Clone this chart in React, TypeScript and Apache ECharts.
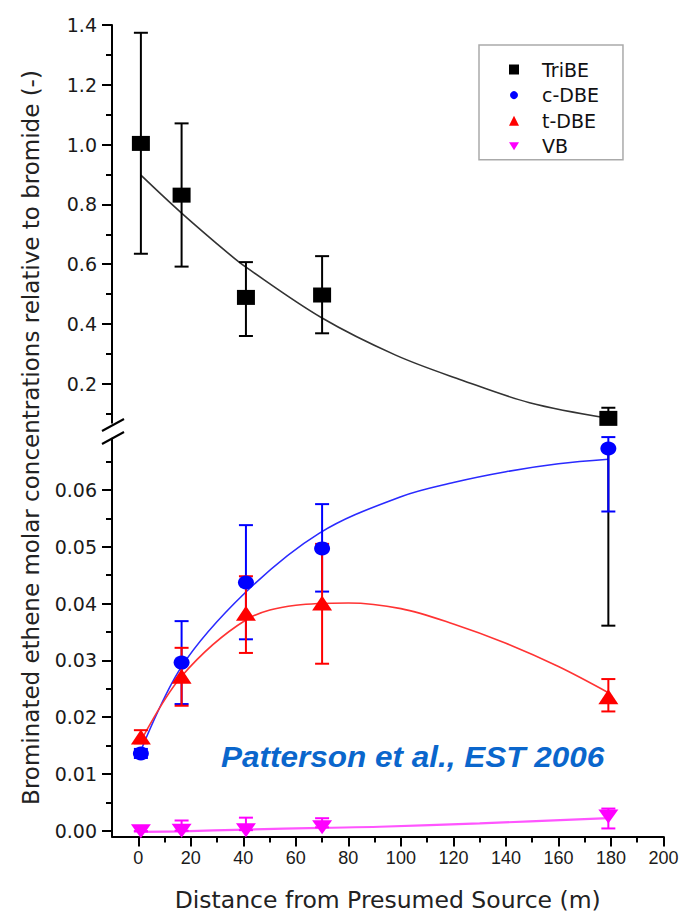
import React, { useEffect, useRef } from 'react';
import * as echarts from 'echarts';

// ---- data ----
const distances = [1, 16.5, 41, 70, 179];

const tribe = [1.004, 0.831, 0.489, 0.497, 0.0845];
const tribeLow = [0.635, 0.592, 0.36, 0.369, 0.0845];
const tribeHigh = [1.374, 1.071, 0.607, 0.627, 0.12];
// lower part of the TriBE error bar at 179 m, as it falls on the lower axis
const tribeTailX = [179];
const tribeTailTop = [0.0673];
const tribeTailBottom = [0.0361];

const cdbe = [0.0136, 0.0296, 0.0437, 0.0497, 0.0673];
const cdbeLow = [0.0128, 0.0223, 0.0337, 0.0421, 0.0562];
const cdbeHigh = [0.0144, 0.0369, 0.0538, 0.0575, 0.0693];

const tdbe = [0.0165, 0.0272, 0.0383, 0.0401, 0.0236];
const tdbeLow = [0.0154, 0.022, 0.0313, 0.0294, 0.021];
const tdbeHigh = [0.0177, 0.0322, 0.0448, 0.0505, 0.0267];

const vb = [-0.0001, 0.0, 0.0001, 0.0006, 0.0025];
const vbLow = [-0.0001, 0.0, 0.0001, 0.0006, 0.0004];
const vbHigh = [-0.0001, 0.0018, 0.0023, 0.0022, 0.0039];

// fitted curves
const tribeFitX = [1, 16.5, 35, 41, 70, 98, 123, 149, 179];
const tribeFitY = [0.898, 0.771, 0.631, 0.59, 0.42, 0.296, 0.213, 0.137, 0.085];
const cdbeFitX = [1, 16.5, 40.5, 69, 100, 120, 140, 160, 179];
const cdbeFitY = [0.0141, 0.0289, 0.0418, 0.0524, 0.0588, 0.0613, 0.0632, 0.0646, 0.0654];
const tdbeFitX = [1, 16.5, 41, 60, 80, 100, 120, 140, 160, 179];
const tdbeFitY = [0.0158, 0.0272, 0.0371, 0.0397, 0.0401, 0.0391, 0.0364, 0.033, 0.0289, 0.0243];
const vbFitX = [1, 16.5, 41, 70, 92, 130, 179];
const vbFitY = [-0.0002, -0.0001, 0.0002, 0.0005, 0.0007, 0.0013, 0.0022];

// ticks
const xMajorTicks = [0, 20, 40, 60, 80, 100, 120, 140, 160, 180, 200];
const xMinorTicks = [10, 30, 50, 70, 90, 110, 130, 150, 170, 190];
const yTopMajorTicks = [0.2, 0.4, 0.6, 0.8, 1.0, 1.2, 1.4];
const yTopMinorTicks = [0.1, 0.3, 0.5, 0.7, 0.9, 1.1, 1.3];
const yBottomMajorTicks = [0, 0.01, 0.02, 0.03, 0.04, 0.05, 0.06];
const yBottomMinorTicks = [0.005, 0.015, 0.025, 0.035, 0.045, 0.055, 0.065];

const seriesNames = ['TriBE', 'c-DBE', 't-DBE', 'VB'];
const yTitle = 'Brominated ethene molar concentrations relative to bromide (-)';
const xTitle = 'Distance from Presumed Source (m)';
const citation = 'Patterson et al., EST 2006';

const zip = (xs: number[], ys: number[]) => xs.map((x, i) => [x, ys[i]]);
const errData = (xs: number[], lo: number[], hi: number[], capLo = 1, capHi = 1) =>
  xs.map((x, i) => [x, lo[i], hi[i], capLo, capHi]);

const errorBars = (color: string, capHalf = 7) => (params: any, api: any) => {
  const x = api.value(0);
  const lo = api.value(1);
  const hi = api.value(2);
  const capLo = api.value(3);
  const capHi = api.value(4);
  const pLo = api.coord([x, lo]);
  const pHi = api.coord([x, hi]);
  const style = { stroke: color, lineWidth: 2 };
  const children: any[] = [
    { type: 'line', shape: { x1: pLo[0], y1: pLo[1], x2: pHi[0], y2: pHi[1] }, style },
  ];
  if (capLo) children.push({ type: 'line', shape: { x1: pLo[0] - capHalf, y1: pLo[1], x2: pLo[0] + capHalf, y2: pLo[1] }, style });
  if (capHi) children.push({ type: 'line', shape: { x1: pHi[0] - capHalf, y1: pHi[1], x2: pHi[0] + capHalf, y2: pHi[1] }, style });
  return { type: 'group', children };
};

const GRID_LEFT = 112;
const GRID_WIDTH = 551.5;

export default function App() {
  const ref = useRef<HTMLDivElement>(null);

  useEffect(() => {
    if (!ref.current) return;
    const chart = echarts.init(ref.current, null, { renderer: 'svg' });

    const labelFontY = { fontFamily: 'DejaVu Sans', fontSize: 19, color: '#1a1a1a' };
    const labelFontX = { fontFamily: 'Liberation Sans', fontSize: 18, color: '#1a1a1a' };
    const axisLine = { show: true, onZero: false, lineStyle: { color: '#000', width: 2 } };
    const noLine = { show: false, onZero: false };
    const tickStyle = { width: 2, color: '#000' };

    const option: any = {
      animation: false,
      backgroundColor: '#ffffff',
      grid: [
        { left: GRID_LEFT, top: 25, width: GRID_WIDTH, height: 397.7, containLabel: false, outerBoundsMode: 'none' },
        { left: GRID_LEFT, top: 438.8, width: GRID_WIDTH, height: 397.6, containLabel: false, outerBoundsMode: 'none' },
      ],
      xAxis: [
        { type: 'value', gridIndex: 0, min: -10, max: 200, show: false },
        {
          type: 'value', gridIndex: 1, min: -10, max: 200, position: 'bottom',
          axisLine,
          axisTick: { show: true, length: 10, lineStyle: tickStyle, customValues: xMajorTicks },
          axisLabel: { show: true, margin: 13, customValues: xMajorTicks, formatter: (v: number) => String(v), ...labelFontX },
          splitLine: { show: false },
          name: xTitle, nameLocation: 'middle', nameGap: 52,
          nameTextStyle: { fontFamily: 'DejaVu Sans', fontSize: 23.5, color: '#222' },
        },
        {
          type: 'value', gridIndex: 1, min: -10, max: 200, position: 'bottom',
          axisLine: noLine,
          axisTick: { show: true, length: 6, lineStyle: tickStyle, customValues: xMinorTicks },
          axisLabel: { show: false },
          splitLine: { show: false },
        },
      ],
      yAxis: [
        {
          type: 'value', gridIndex: 0, min: 0.07, max: 1.4, position: 'left',
          axisLine,
          axisTick: { show: true, length: 10, lineStyle: tickStyle, customValues: yTopMajorTicks },
          axisLabel: { show: true, margin: 15, customValues: yTopMajorTicks, formatter: (v: number) => v.toFixed(1), ...labelFontY },
          splitLine: { show: false },
        },
        {
          type: 'value', gridIndex: 0, min: 0.07, max: 1.4, position: 'left',
          axisLine: noLine,
          axisTick: { show: true, length: 6, lineStyle: tickStyle, customValues: yTopMinorTicks },
          axisLabel: { show: false },
          splitLine: { show: false },
        },
        {
          type: 'value', gridIndex: 1, min: -0.001, max: 0.069, position: 'left',
          axisLine,
          axisTick: { show: true, length: 10, lineStyle: tickStyle, customValues: yBottomMajorTicks },
          axisLabel: { show: true, margin: 15, customValues: yBottomMajorTicks, formatter: (v: number) => v.toFixed(2), ...labelFontY },
          splitLine: { show: false },
        },
        {
          type: 'value', gridIndex: 1, min: -0.001, max: 0.069, position: 'left',
          axisLine: noLine,
          axisTick: { show: true, length: 6, lineStyle: tickStyle, customValues: yBottomMinorTicks },
          axisLabel: { show: false },
          splitLine: { show: false },
        },
      ],
      legend: {
        orient: 'vertical', left: 479, top: 45,
        padding: [15, 24, 4, 29],
        itemWidth: 10, itemHeight: 10, itemGap: 6.6,
        borderColor: '#aaaaaa', borderWidth: 1.5,
        selectedMode: false,
        textStyle: { fontFamily: 'DejaVu Sans', fontSize: 19, color: '#111', padding: [0, 0, 0, 18] },
        data: [
          { name: seriesNames[0], icon: 'rect' },
          { name: seriesNames[1], icon: 'circle', itemStyle: { borderColor: '#ffffff', borderWidth: 2 } },
          { name: seriesNames[2], icon: 'triangle' },
          { name: seriesNames[3], icon: 'path://M0,0L10,0L5,8Z' },
        ],
      },
      graphic: [
        {
          type: 'text', x: 31, y: 437.5, rotation: Math.PI / 2,
          style: { text: yTitle, fontFamily: 'DejaVu Sans', fontSize: 23, fill: '#222', align: 'center', verticalAlign: 'middle' },
        },
        {
          type: 'text', x: 221, y: 757, scaleX: 1.05,
          style: { text: citation, fontFamily: 'Liberation Sans', fontSize: 30, fontWeight: 'bold', fontStyle: 'italic', fill: '#0a66cc', align: 'left', verticalAlign: 'middle' },
        },
        { type: 'line', shape: { x1: 102, y1: 431, x2: 124, y2: 419 }, style: { stroke: '#000', lineWidth: 2 } },
        { type: 'line', shape: { x1: 102, y1: 444, x2: 124, y2: 432 }, style: { stroke: '#000', lineWidth: 2 } },
      ],
      series: [
        // fitted curves
        { type: 'line', name: 'TriBE fit', xAxisIndex: 0, yAxisIndex: 0, data: zip(tribeFitX, tribeFitY), smooth: 0.35, symbol: 'none', lineStyle: { color: '#333', width: 1.6 }, z: 1, silent: true },
        { type: 'line', name: 'c-DBE fit', xAxisIndex: 1, yAxisIndex: 2, data: zip(cdbeFitX, cdbeFitY), smooth: 0.35, symbol: 'none', lineStyle: { color: '#2a2aff', width: 1.6 }, z: 1, silent: true },
        { type: 'line', name: 't-DBE fit', xAxisIndex: 1, yAxisIndex: 2, data: zip(tdbeFitX, tdbeFitY), smooth: 0.35, symbol: 'none', lineStyle: { color: '#ff3333', width: 1.6 }, z: 1, silent: true },
        { type: 'line', name: 'VB fit', xAxisIndex: 1, yAxisIndex: 2, data: zip(vbFitX, vbFitY), smooth: 0.35, symbol: 'none', lineStyle: { color: '#ff55ff', width: 2.2 }, z: 1, silent: true },
        // error bars
        { type: 'custom', name: 'TriBE err', xAxisIndex: 0, yAxisIndex: 0, renderItem: errorBars('#000'), data: errData(distances, tribeLow, tribeHigh), encode: { x: 0, y: [1, 2] }, z: 2, silent: true },
        { type: 'custom', name: 'TriBE err tail', xAxisIndex: 1, yAxisIndex: 2, renderItem: errorBars('#000'), data: errData(tribeTailX, tribeTailBottom, tribeTailTop, 1, 0), encode: { x: 0, y: [1, 2] }, z: 2, silent: true },
        { type: 'custom', name: 'c-DBE err', xAxisIndex: 1, yAxisIndex: 2, renderItem: errorBars('#0000ff'), data: errData(distances, cdbeLow, cdbeHigh), encode: { x: 0, y: [1, 2] }, z: 2, silent: true },
        { type: 'custom', name: 't-DBE err', xAxisIndex: 1, yAxisIndex: 2, renderItem: errorBars('#ff0000'), data: errData(distances, tdbeLow, tdbeHigh), encode: { x: 0, y: [1, 2] }, z: 2, silent: true },
        { type: 'custom', name: 'VB err', xAxisIndex: 1, yAxisIndex: 2, renderItem: errorBars('#ff00ff'), data: errData(distances, vbLow, vbHigh), encode: { x: 0, y: [1, 2] }, z: 2, silent: true },
        // markers
        { type: 'scatter', name: seriesNames[0], xAxisIndex: 0, yAxisIndex: 0, data: zip(distances, tribe), symbol: 'rect', symbolSize: [18, 15], itemStyle: { color: '#000000', opacity: 1 }, clip: false, z: 3 },
        { type: 'scatter', name: seriesNames[1], xAxisIndex: 1, yAxisIndex: 2, data: zip(distances, cdbe), symbol: 'circle', symbolSize: [16, 14], itemStyle: { color: '#0000ff', opacity: 1 }, clip: false, z: 3 },
        { type: 'scatter', name: seriesNames[2], xAxisIndex: 1, yAxisIndex: 2, data: zip(distances, tdbe), symbol: 'triangle', symbolSize: [20, 15], itemStyle: { color: '#ff0000', opacity: 1 }, clip: false, z: 3 },
        { type: 'scatter', name: seriesNames[3], xAxisIndex: 1, yAxisIndex: 2, data: zip(distances, vb), symbol: 'triangle', symbolRotate: 180, symbolSize: [20, 14], itemStyle: { color: '#ff00ff', opacity: 1 }, clip: false, z: 3 },
      ],
    };

    chart.setOption(option);
    return () => chart.dispose();
  }, []);

  return (
    <div
      ref={ref}
      style={{ position: 'absolute', left: 0, top: 0, width: 681, height: 914, background: '#ffffff' }}
    />
  );
}
